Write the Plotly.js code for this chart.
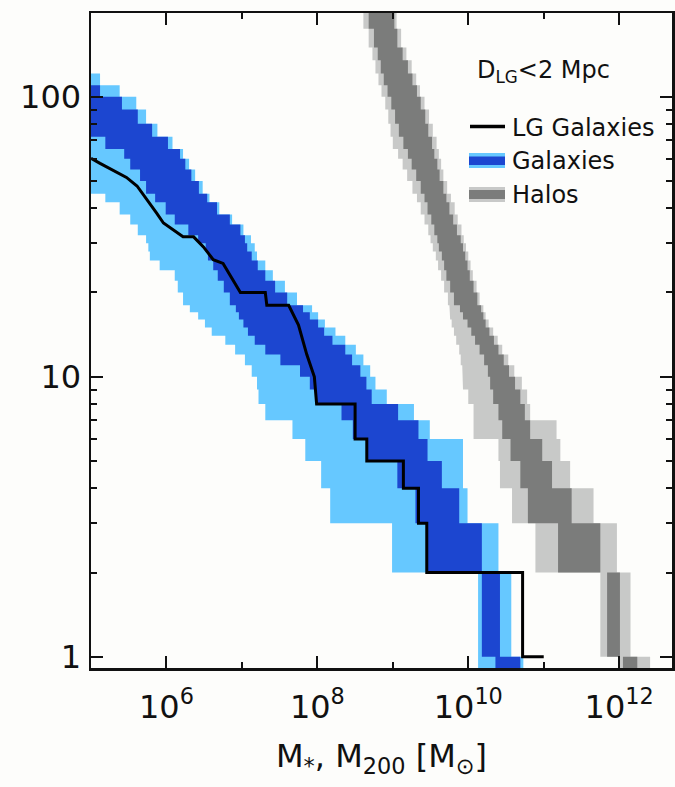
<!DOCTYPE html>
<html>
<head>
<meta charset="utf-8">
<script src="https://cdn.plot.ly/plotly-3.0.1.min.js"></script>
<style>
  html, body { margin: 0; padding: 0; background: #FDFDFB; }
  #chart { width: 675px; height: 787px; }
</style>
</head>
<body>
<div id="chart"></div>
<script>
// ---- Count levels N(>M) that bound each horizontal strip of the bands ----
const levels = [250, 175, 150, 135, 121, 110, 100, 90, 80, 72, 65, 60, 55, 50, 45, 42, 38, 35, 32, 30,
                28, 26, 24, 22, 20, 18, 17, 16, 15, 14, 13, 12, 11, 10, 9, 8, 7, 6, 5, 4, 3, 2, 1, 0.5];

// ---- Galaxies band: log10(M*) edges of each strip (outer = light, inner = dark) ----
const galOuterLow  = [4.8, 4.8, 4.8, 4.8, 4.8, 4.8, 4.8, 4.8, 4.8, 4.8, 4.8, 4.8, 4.8, 4.8, 5.19,
                      5.38, 5.52, 5.62, 5.73, 5.76, 5.78, 5.91, 6.11, 6.15, 6.22, 6.31, 6.42, 6.51, 6.60, 6.78,
                      6.91, 7.04, 7.13, 7.20, 7.22, 7.31, 7.67, 7.84, 8.05, 8.17, 8.99, 10.13, 10.13];
const galOuterHigh = [4.9, 4.9, 4.9, 4.9, 5.12, 5.38, 5.60, 5.73, 5.88, 6.08, 6.22, 6.30, 6.38, 6.48, 6.57,
                      6.70, 6.87, 7.02, 7.12, 7.17, 7.20, 7.31, 7.41, 7.57, 7.73, 7.93, 8.01, 8.10, 8.24, 8.37,
                      8.51, 8.61, 8.70, 8.77, 8.92, 9.28, 9.49, 9.93, 9.93, 9.99, 10.40, 10.57, 10.73];
const galInnerLow  = [4.8, 4.8, 4.8, 4.8, 4.8, 4.8, 4.8, 4.8, 4.8, 5.19, 5.44, 5.52, 5.65, 5.73, 5.85,
                      5.99, 6.11, 6.29, 6.42, 6.52, 6.55, 6.62, 6.68, 6.76, 6.84, 6.92, 6.96, 7.02, 7.08, 7.17,
                      7.31, 7.51, 7.77, 7.90, 7.98, 8.32, 8.47, 8.66, 9.06, 9.30, 9.46, 10.18, 10.36];
const galInnerHigh = [4.9, 4.9, 4.9, 4.9, 4.9, 5.12, 5.41, 5.62, 5.81, 6.02, 6.18, 6.25, 6.33, 6.43, 6.54,
                      6.67, 6.84, 6.98, 7.04, 7.07, 7.13, 7.21, 7.31, 7.44, 7.60, 7.81, 7.90, 8.01, 8.09, 8.20,
                      8.37, 8.46, 8.57, 8.65, 8.72, 9.07, 9.34, 9.46, 9.65, 9.88, 10.18, 10.42, 10.69];

// ---- Halos band: log10(M200) edges of each strip ----
const haloOuterLow  = [8.61, 8.68, 8.73, 8.77, 8.81, 8.85, 8.90, 8.94, 8.97, 9.00, 9.07, 9.13, 9.19, 9.26, 9.32,
                       9.37, 9.42, 9.47, 9.50, 9.53, 9.57, 9.60, 9.64, 9.68, 9.73, 9.75, 9.76, 9.78, 9.81, 9.84,
                       9.88, 9.90, 9.92, 9.93, 10.00, 10.07, 10.07, 10.40, 10.42, 10.58, 10.89, 11.75, 12.01];
const haloInnerLow  = [8.68, 8.75, 8.80, 8.84, 8.88, 8.93, 8.98, 9.03, 9.08, 9.14, 9.20, 9.25, 9.31, 9.37, 9.42,
                       9.46, 9.51, 9.55, 9.59, 9.61, 9.65, 9.68, 9.71, 9.76, 9.81, 9.89, 9.93, 9.99, 10.04, 10.09,
                       10.15, 10.21, 10.26, 10.29, 10.33, 10.40, 10.45, 10.56, 10.69, 10.79, 11.19, 11.84, 12.05];
const haloInnerHigh = [9.02, 9.06, 9.13, 9.20, 9.26, 9.32, 9.37, 9.43, 9.47, 9.52, 9.55, 9.59, 9.62, 9.67, 9.71,
                       9.75, 9.80, 9.85, 9.90, 9.93, 9.96, 9.99, 10.02, 10.07, 10.12, 10.17, 10.20, 10.23, 10.28, 10.34,
                       10.40, 10.47, 10.54, 10.62, 10.69, 10.75, 10.82, 10.98, 11.11, 11.37, 11.75, 12.01, 12.24];
const haloOuterHigh = [9.05, 9.11, 9.18, 9.25, 9.31, 9.36, 9.42, 9.48, 9.53, 9.58, 9.61, 9.64, 9.67, 9.72, 9.77,
                       9.82, 9.86, 9.91, 9.94, 9.97, 10.00, 10.03, 10.06, 10.11, 10.15, 10.20, 10.23, 10.27, 10.33, 10.39,
                       10.45, 10.53, 10.61, 10.71, 10.78, 10.82, 11.17, 11.22, 11.35, 11.66, 11.97, 12.15, 12.41];

// ---- Local Group galaxies cumulative count (vertices of the black curve) ----
const lgLogMass = [5.0, 5.12, 5.47, 5.61, 5.87, 5.96, 6.22, 6.36, 6.49, 6.62, 6.75, 6.98, 7.31, 7.33, 7.62,
                   7.75, 7.86, 7.96, 7.99, 8.50, 8.50, 8.655, 8.655, 9.14, 9.14, 9.34, 9.34, 9.45, 9.45, 10.72,
                   10.72, 11.0];
const lgCount   = [60.3, 57.8, 51.5, 48, 38.4, 35.4, 31.6, 31.6, 29.1, 26.2, 25.4, 20, 20, 18, 18,
                   15.3, 12, 10, 8, 8, 6, 6, 5, 5, 4, 4, 3, 3, 2, 2,
                   1, 1];

// ---- Axis ticks ----
const xMajorExp = [6, 8, 10, 12];
const xMinorExp = [7, 9, 11];
const yMajor = [1, 10, 100];
const yMinor = [2, 3, 4, 5, 6, 7, 8, 9, 20, 30, 40, 50, 60, 70, 80, 90];

// ---- Legend labels ----
const legendLabels = ['LG Galaxies', 'Galaxies', 'Halos'];
const legendTitle = 'D<sub>LG</sub>&lt;2 Mpc';

const COL = {
  lightBlue: '#66C8FF', darkBlue: '#1C46D0',
  lightGray: '#C8C9C8', darkGray: '#7B7C7B',
  ink: '#111111', bg: '#FDFDFB'
};
const FONT = 'DejaVu Sans, Verdana, sans-serif';

function stepBand(lowLog, highLog) {
  const x = [], y = [];
  for (let i = 0; i < highLog.length; i++) {
    const v = Math.pow(10, highLog[i]);
    x.push(v, v); y.push(levels[i], levels[i + 1]);
  }
  for (let i = lowLog.length - 1; i >= 0; i--) {
    const v = Math.pow(10, lowLog[i]);
    x.push(v, v); y.push(levels[i + 1], levels[i]);
  }
  return { x, y };
}

function bandTrace(lowLog, highLog, color, name) {
  const p = stepBand(lowLog, highLog);
  return {
    type: 'scatter', mode: 'lines', name: name,
    x: p.x, y: p.y, fill: 'toself', fillcolor: color,
    line: { width: 0, color: color }, hoverinfo: 'skip', showlegend: false
  };
}

const traces = [
  bandTrace(galOuterLow, galOuterHigh, COL.lightBlue, 'Galaxies'),
  bandTrace(galInnerLow, galInnerHigh, COL.darkBlue, 'Galaxies'),
  bandTrace(haloOuterLow, haloOuterHigh, COL.lightGray, 'Halos'),
  bandTrace(haloInnerLow, haloInnerHigh, COL.darkGray, 'Halos'),
  {
    type: 'scatter', mode: 'lines', name: legendLabels[0],
    x: lgLogMass.map(v => Math.pow(10, v)), y: lgCount,
    line: { color: '#000000', width: 3 }, showlegend: false
  }
];

// pixel helpers for legend placement (paper coordinates of the plot area)
const PL = 91, PR = 672, PT = 13, PB = 668;
const px = v => (v - PL) / (PR - PL);
const py = v => (PB - v) / (PB - PT);

const shapes = [
  { type: 'line', xref: 'paper', yref: 'paper', x0: px(470), x1: px(505), y0: py(126.5), y1: py(126.5),
    line: { color: '#000000', width: 3.5 } },
  { type: 'rect', xref: 'paper', yref: 'paper', x0: px(469), x1: px(505), y0: py(168), y1: py(153),
    fillcolor: COL.lightBlue, line: { width: 0 } },
  { type: 'rect', xref: 'paper', yref: 'paper', x0: px(469), x1: px(505), y0: py(165), y1: py(156.5),
    fillcolor: COL.darkBlue, line: { width: 0 } },
  { type: 'rect', xref: 'paper', yref: 'paper', x0: px(469), x1: px(505), y0: py(202), y1: py(187),
    fillcolor: COL.lightGray, line: { width: 0 } },
  { type: 'rect', xref: 'paper', yref: 'paper', x0: px(469), x1: px(505), y0: py(199), y1: py(190),
    fillcolor: COL.darkGray, line: { width: 0 } }
];

const legendY = [127.5, 161.5, 195];
const annotations = legendLabels.map((t, i) => ({
  xref: 'paper', yref: 'paper', x: px(510), y: py(legendY[i]),
  xanchor: 'left', yanchor: 'middle', showarrow: false, text: t,
  font: { family: FONT, size: 24, color: COL.ink }
}));
annotations.push({
  xref: 'paper', yref: 'paper', x: px(475), y: py(72),
  xanchor: 'left', yanchor: 'middle', showarrow: false, text: legendTitle,
  font: { family: FONT, size: 24, color: COL.ink }
});

const layout = {
  width: 675, height: 787,
  margin: { l: PL, r: 675 - PR, t: PT, b: 787 - PB, pad: 0 },
  paper_bgcolor: COL.bg, plot_bgcolor: COL.bg,
  showlegend: false,
  font: { family: FONT, color: COL.ink },
  xaxis: {
    type: 'log', range: [5, 12.70], automargin: false,
    tickmode: 'array',
    tickvals: xMajorExp.map(e => Math.pow(10, e)),
    ticktext: xMajorExp.map(e => '10<sup>' + e + '</sup>'),
    ticks: 'inside', ticklen: 12, tickwidth: 2, tickcolor: COL.ink,
    minor: { tickmode: 'array', tickvals: xMinorExp.map(e => Math.pow(10, e)),
             ticks: 'inside', ticklen: 6, tickwidth: 2, tickcolor: COL.ink, showgrid: false },
    showline: true, linewidth: 2.5, linecolor: COL.ink, mirror: 'allticks',
    showgrid: false, zeroline: false,
    tickfont: { family: FONT, size: 32, color: COL.ink },
    ticklabelstandoff: 9,
    title: { text: 'M<sub>*</sub>, M<sub>200</sub> [M<sub>⊙</sub>]',
             font: { family: FONT, size: 32, color: COL.ink }, standoff: 20 }
  },
  yaxis: {
    type: 'log', range: [-0.040, 2.299], automargin: false,
    tickmode: 'array',
    tickvals: yMajor, ticktext: yMajor.map(String),
    ticks: 'inside', ticklen: 12, tickwidth: 2, tickcolor: COL.ink,
    minor: { tickmode: 'array', tickvals: yMinor,
             ticks: 'inside', ticklen: 6, tickwidth: 2, tickcolor: COL.ink, showgrid: false },
    showline: true, linewidth: 2.5, linecolor: COL.ink, mirror: 'allticks',
    showgrid: false, zeroline: false,
    tickfont: { family: FONT, size: 32, color: COL.ink },
    ticklabelstandoff: 1
  },
  shapes: shapes,
  annotations: annotations
};

Plotly.newPlot('chart', traces, layout, { displayModeBar: false, staticPlot: true });
</script>
</body>
</html>
